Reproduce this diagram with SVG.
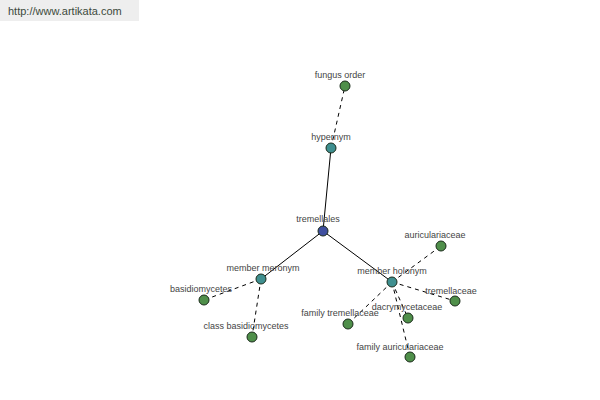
<svg xmlns="http://www.w3.org/2000/svg" width="600" height="400" viewBox="0 0 600 400">
<style>
.lbl{font-family:"Liberation Sans",Arial,sans-serif;font-size:9px;fill:#444;text-anchor:middle}
.n{stroke:#1a2a1a;stroke-width:1}
.g{fill:#4f8f4a}
.t{fill:#3f8f8f}
.b{fill:#3f4f9f}
.e{stroke:#000;stroke-width:1;fill:none}
.d{stroke-dasharray:4,4}
</style>
<rect x="0" y="0" width="139" height="21" fill="#eeeeee"/>
<text x="8" y="15" font-family="'Liberation Sans',Arial,sans-serif" font-size="11" fill="#3c4a3c">http://www.artikata.com</text>
<g id="connectors">
<line class="e" x1="323" y1="231" x2="331" y2="148"/>
<line class="e" x1="323" y1="231" x2="261" y2="279"/>
<line class="e" x1="323" y1="231" x2="392" y2="282"/>
<line class="e d" x1="331" y1="148" x2="345" y2="86"/>
<line class="e d" x1="261" y1="279" x2="204" y2="300"/>
<line class="e d" x1="261" y1="279" x2="252" y2="337"/>
<line class="e d" x1="392" y1="282" x2="441" y2="246"/>
<line class="e d" x1="392" y1="282" x2="455" y2="301"/>
<line class="e d" x1="392" y1="282" x2="408" y2="318"/>
<line class="e d" x1="392" y1="282" x2="348" y2="324"/>
<line class="e d" x1="392" y1="282" x2="410" y2="357"/>
</g>
<g id="fungus-order"><circle class="n g" cx="345" cy="86" r="5"/><text class="lbl" x="340" y="78">fungus order</text></g>
<g id="hypernym"><circle class="n t" cx="331" cy="148" r="5"/><text class="lbl" x="331" y="140">hypernym</text></g>
<g id="tremellales"><circle class="n b" cx="323" cy="231" r="5"/><text class="lbl" x="318" y="222">tremellales</text></g>
<g id="member-meronym"><circle class="n t" cx="261" cy="279" r="5"/><text class="lbl" x="263" y="271">member meronym</text></g>
<g id="basidiomycetes"><circle class="n g" cx="204" cy="300" r="5"/><text class="lbl" x="201" y="292">basidiomycetes</text></g>
<g id="class-basidiomycetes"><circle class="n g" cx="252" cy="337" r="5"/><text class="lbl" x="246" y="329">class basidiomycetes</text></g>
<g id="member-holonym"><circle class="n t" cx="392" cy="282" r="5"/><text class="lbl" x="392" y="274">member holonym</text></g>
<g id="auriculariaceae"><circle class="n g" cx="441" cy="246" r="5"/><text class="lbl" x="435" y="238">auriculariaceae</text></g>
<g id="tremellaceae"><circle class="n g" cx="455" cy="301" r="5"/><text class="lbl" x="451" y="294">tremellaceae</text></g>
<g id="dacrymycetaceae"><circle class="n g" cx="408" cy="318" r="5"/><text class="lbl" x="407" y="310">dacrymycetaceae</text></g>
<g id="family-tremellaceae"><circle class="n g" cx="348" cy="324" r="5"/><text class="lbl" x="340" y="316">family tremellaceae</text></g>
<g id="family-auriculariaceae"><circle class="n g" cx="410" cy="357" r="5"/><text class="lbl" x="400" y="350">family auriculariaceae</text></g>
</svg>
